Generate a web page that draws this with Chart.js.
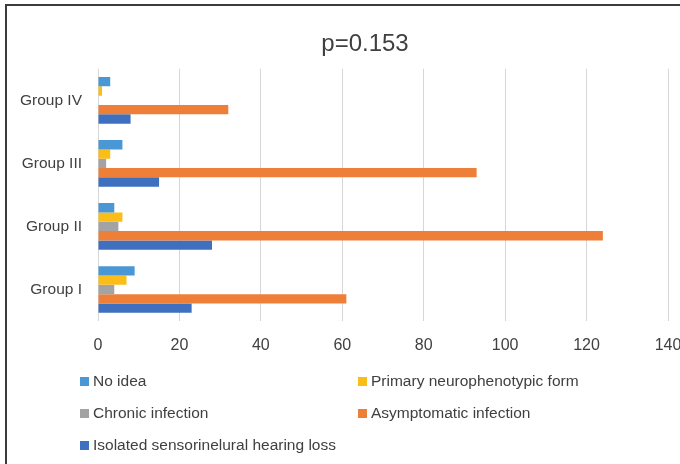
<!DOCTYPE html>
<html>
<head>
<meta charset="utf-8">
<script src="https://cdn.jsdelivr.net/npm/chart.js@4/dist/chart.umd.min.js"></script>
<style>
  body { margin: 0; background: #fff; }
  #wrap { position: relative; width: 680px; height: 464px; overflow: hidden; font-family: "Liberation Sans", Arial, sans-serif; }
  #frame { position: absolute; left: 5px; top: 4px; width: 720px; height: 520px; border-left: 2px solid #3c3c3c; border-top: 2px solid #3c3c3c; }
  #legend { position: absolute; left: 80px; top: 370px; width: 600px; display: grid; grid-template-columns: 278px 300px; row-gap: 10px; }
  .item { display: flex; align-items: center; height: 22px; font-size: 15.5px; color: #404040; white-space: nowrap; }
  .box { width: 9px; height: 9px; margin-right: 4px; }
</style>
</head>
<body>
<div id="wrap">
  <canvas id="chart" width="680" height="464"></canvas>
  <div id="frame"></div>
  <div id="legend"></div>
</div>
<script>
var groups = ['Group I', 'Group II', 'Group III', 'Group IV'];
var noIdea = [9, 4, 6, 3];
var primaryNeuro = [7, 6, 3, 1];
var chronicInfection = [4, 5, 2, 0];
var asymptomaticInfection = [61, 124, 93, 32];
var isolatedSnhl = [23, 28, 15, 8];
var xTicks = [0, 20, 40, 60, 80, 100, 120, 140];

var series = [
    { label: 'No idea', data: noIdea, color: '#4a97d6' },
    { label: 'Primary neurophenotypic form', data: primaryNeuro, color: '#fbbd18' },
    { label: 'Chronic infection', data: chronicInfection, color: '#a3a3a3' },
    { label: 'Asymptomatic infection', data: asymptomaticInfection, color: '#ee7f38' },
    { label: 'Isolated sensorinelural hearing loss', data: isolatedSnhl, color: '#3f6fbf' }
];

var font = '"Liberation Sans", Arial, sans-serif';
var noClip = function() { return undefined; };

var chart = new Chart(document.getElementById('chart'), {
    type: 'bar',
    data: {
        labels: groups,
        datasets: series.map(function(s) {
            return { label: s.label, data: s.data, backgroundColor: s.color, barPercentage: 1, categoryPercentage: 0.74 };
        })
    },
    options: {
        indexAxis: 'y',
        responsive: false,
        animation: false,
        layout: { padding: { left: 50, right: 0, top: 20, bottom: 120 } },
        plugins: {
            legend: { display: false },
            tooltip: { enabled: false },
            title: {
                display: true,
                text: 'p=0.153',
                color: '#404040',
                font: { family: font, size: 24, weight: 'normal' },
                padding: { top: 10, bottom: 10 }
            }
        },
        scales: {
            x: {
                min: 0,
                max: 140,
                afterBuildTicks: function(scale) {
                    scale.ticks = xTicks.map(function(v) { return { value: v }; });
                },
                afterFit: function(scale) {
                    scale.height = 23;
                    scale.paddingRight = 12;
                    scale._computeLabelArea = noClip;
                },
                grid: { color: '#d6d6d6', lineWidth: 1, drawTicks: false },
                border: { display: false },
                ticks: { padding: 15, color: '#404040', font: { family: font, size: 16 } }
            },
            y: {
                reverse: true,
                afterFit: function(scale) {
                    scale.width = 48;
                    // let the group labels run past the narrow axis box
                    scale._computeLabelArea = noClip;
                },
                grid: { display: false, drawTicks: false },
                border: { display: false },
                ticks: { padding: 16, color: '#404040', font: { family: font, size: 15.5 } }
            }
        }
    }
});

// two-column legend built from the chart's datasets
var legend = document.getElementById('legend');
chart.data.datasets.forEach(function(ds) {
    var item = document.createElement('div');
    item.className = 'item';
    var box = document.createElement('span');
    box.className = 'box';
    box.style.background = ds.backgroundColor;
    item.appendChild(box);
    item.appendChild(document.createTextNode(ds.label));
    legend.appendChild(item);
});
</script>
</body>
</html>
